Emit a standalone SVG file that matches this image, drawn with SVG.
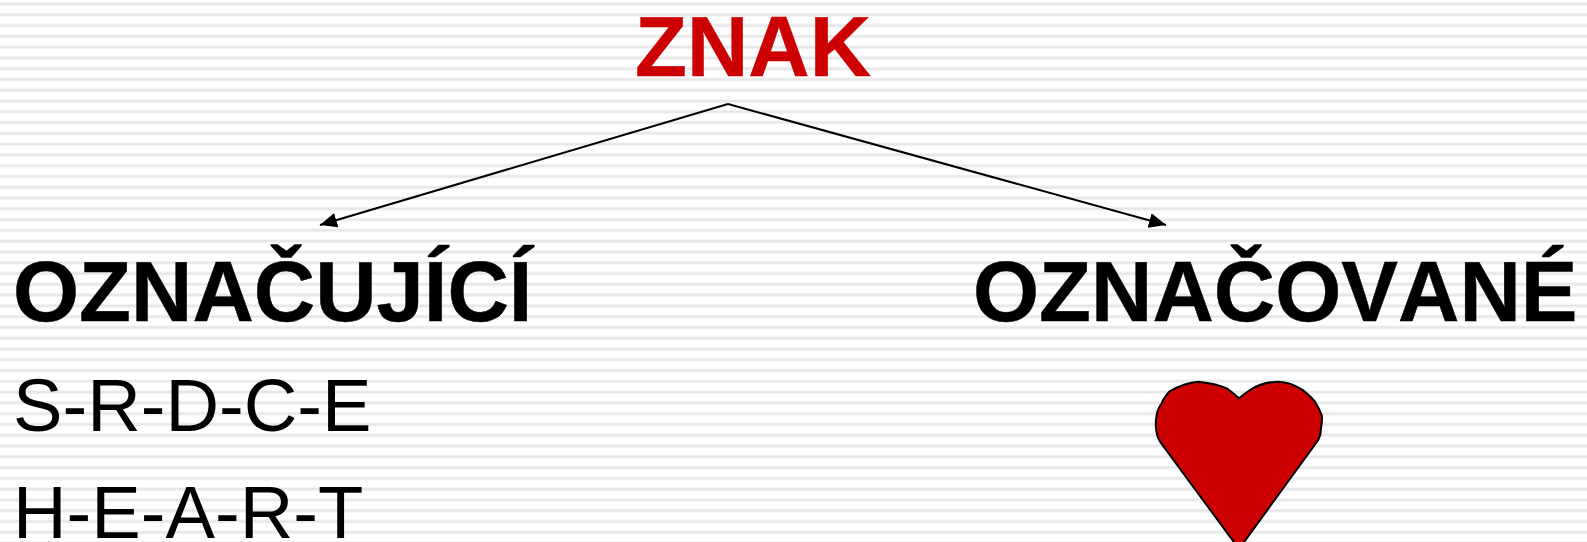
<svg xmlns="http://www.w3.org/2000/svg" width="1587" height="542" viewBox="0 0 1587 542">
<style>
text{font-family:"Liberation Sans",Arial,sans-serif;fill:#000;font-kerning:none}
.h{font-size:85px;font-weight:700;stroke:#000;stroke-width:.5}
.s{font-size:74.2px}
.c{fill:none;stroke:#000;stroke-width:2}
</style>
<defs>
<pattern id="stripes" patternUnits="userSpaceOnUse" width="16" height="10.78" y="0">
<rect width="16" height="10.78" fill="#fff"/>
<rect y="2.2" width="16" height="3.6" fill="#f3f3f3"/>
<rect y="3" width="16" height="2" fill="#e7e7e7"/>
</pattern>
<marker id="ah" markerUnits="userSpaceOnUse" markerWidth="18" markerHeight="16" refX="17" refY="7.5" orient="auto" viewBox="0 0 18 15"><path d="M0 0L17 7.500L0 15Z" fill="#000"/></marker>
</defs>
<rect id="background" width="1587" height="542" fill="url(#stripes)"/>
<g id="connectors">
<path class="c" d="M728 104L320 225" marker-end="url(#ah)"/>
<path class="c" d="M728 104L1166 225" marker-end="url(#ah)"/>
</g>
<g id="node-znak"><text x="635" y="76" class="h" style="fill:#cc0000;stroke:#cc0000">ZNAK</text></g>
<g id="node-oznacujici"><text x="13" y="321" class="h">OZNAČUJÍCÍ</text></g>
<g id="node-oznacovane"><text x="973" y="321" class="h">OZNAČOVANÉ</text></g>
<g id="node-srdce"><text x="13" y="431" class="s">S-R-D-C-E</text></g>
<g id="node-heart"><text x="13" y="538" class="s">H-E-A-R-T</text></g>
<g id="node-heart-shape"><path d="M1239 398.300Q1232 392 1226.700 388.300Q1218 384 1198.300 381.700Q1184 383 1170 391Q1164 397 1161.700 403.300Q1157 410 1156.700 415Q1155 424 1156.500 432Q1157 437 1160 441.700L1239 549L1318.300 440Q1321 435 1321 428.300Q1322.500 420 1321.700 415Q1319 408 1315 401.700Q1311 397 1306.700 393.300Q1302 389 1296.700 386.700Q1288 382 1278.300 381.700Q1262 382 1250 390Q1244 394 1239 398.300Z" fill="#cc0000" stroke="#000" stroke-width="2" stroke-linejoin="round"/></g>
</svg>
